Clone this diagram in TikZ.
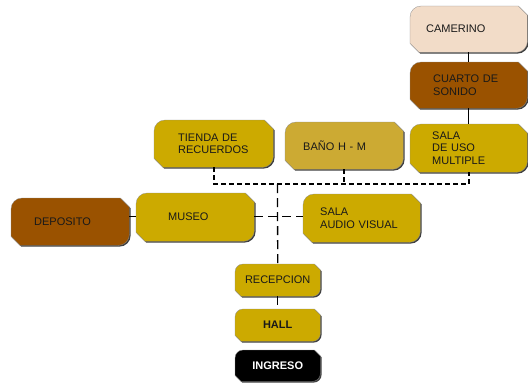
\documentclass[tikz,border=0pt]{standalone}
\usepackage{fontspec}
\setmainfont{Liberation Sans}
\usetikzlibrary{calc}
\pgfdeclarelayer{bg}
\pgfsetlayers{bg,main}
\definecolor{peach}{HTML}{F2DCC8}
\definecolor{brownbox}{HTML}{9A5200}
\definecolor{goldbox}{HTML}{CCAA00}
\definecolor{bathbox}{HTML}{CCAA33}
\tikzset{
  room/.style={rectangle, anchor=north west, inner ysep=0pt, align=left,
    font=\fontsize{11bp}{12.5bp}\selectfont, text=black!90},
  smallroom/.style={rectangle, anchor=north west, inner sep=0pt, align=center,
    minimum width=85bp, font=\fontsize{11bp}{12.5bp}\selectfont, text=black!90},
  solidlink/.style={draw=black, line width=1.2bp},
  buslink/.style={draw=black, line width=1.6bp, dash pattern=on 5bp off 3bp},
  longlink/.style={draw=black, line width=1.3bp, dash pattern=on 9bp off 5bp},
}
% #1 node, #2 fill, #3 round radius, #4 chamfer
\newcommand\octopath[3]{%
    ({\x1},{\y1-#2}) .. controls ({\x1},{\y1-0.45*#2}) and ({\x1+0.45*#2},{\y1}) .. ({\x1+#2},{\y1}) -- ({\x2-#3},{\y1}) -- ({\x2},{\y1-#3}) --
    ({\x2},{\y2+#2}) .. controls ({\x2},{\y2+0.45*#2}) and ({\x2-0.45*#2},{\y2}) .. ({\x2-#2},{\y2}) -- ({\x1+#3},{\y2}) -- ({\x1},{\y2+#3}) -- cycle}
\newcommand\octo[4]{%
  \path let \p1=(#1.north west), \p2=(#1.south east) in
    [fill=black!75, xshift=1.2pt, yshift=-1.2pt] \octopath{}{#3}{#4};
  \path let \p1=(#1.north west), \p2=(#1.south east) in
    [fill=#2, draw=black!45, line width=0.3pt] \octopath{}{#3}{#4};
}
\begin{document}
\begin{tikzpicture}[x=1bp,y=-1bp]
\useasboundingbox (0,0) rectangle (528,383);
% rooms
\node[room, minimum height=46bp, inner xsep=16bp, text width=85bp] (camerino) at (410,6) {CAMERINO};
\node[room, minimum height=46bp, inner xsep=23bp, text width=71bp] (cuarto) at (410,62) {CUARTO DE\\SONIDO};
\node[room, minimum height=48bp, inner xsep=22bp, text width=73bp] (salauso) at (410,124) {SALA\\DE USO\\MULTIPLE};
\node[room, minimum height=47bp, inner xsep=24bp, text width=71bp] (tienda) at (154,120) {TIENDA DE\\RECUERDOS};
\node[room, minimum height=47bp, inner xsep=18bp, text width=82bp] (bano) at (285,122) {BAÑO H - M};
\node[room, minimum height=47bp, inner xsep=23bp, text width=72bp] (deposito) at (11,198) {DEPOSITO};
\node[room, minimum height=48bp, inner xsep=32bp, text width=54bp] (museo) at (136,193) {MUSEO};
\node[room, minimum height=48bp, inner xsep=17bp, text width=83bp] (salaav) at (303,194) {SALA\\AUDIO VISUAL};
\node[smallroom, minimum height=32bp] (recepcion) at (235,264) {RECEPCION};
\node[smallroom, minimum height=32bp, font=\fontsize{11bp}{12.5bp}\selectfont\bfseries] (hall) at (235,309) {HALL};
\node[smallroom, minimum height=31bp, text=white, font=\fontsize{11bp}{12.5bp}\selectfont\bfseries] (ingreso) at (235,350) {INGRESO};
% shapes
\begin{pgfonlayer}{bg}
\octo{camerino}{peach}{11bp}{9bp}
\octo{cuarto}{brownbox}{11bp}{9bp}
\octo{salauso}{goldbox}{11bp}{9bp}
\octo{tienda}{goldbox}{11bp}{9bp}
\octo{bano}{bathbox}{11bp}{9bp}
\octo{deposito}{brownbox}{11bp}{9bp}
\octo{museo}{goldbox}{11bp}{9bp}
\octo{salaav}{goldbox}{11bp}{9bp}
\octo{recepcion}{goldbox}{8bp}{6bp}
\octo{hall}{goldbox}{8bp}{6bp}
\octo{ingreso}{black}{8bp}{6bp}
\end{pgfonlayer}
% connectors
\coordinate (bus) at (277.5,184);
\draw[solidlink] (camerino) -- (cuarto);
\draw[solidlink] (cuarto) -- (salauso);
\draw[buslink] (tienda.south) |- (bus) -| (salauso.south);
\draw[buslink] (bano.south) -- (bano.south |- bus);
\draw[longlink] (bus) -- (recepcion.north);
\draw[longlink] ([yshift=1bp]museo.east) -- ([yshift=1bp]museo.east -| salaav.west);
\draw[solidlink] ([yshift=1bp]museo.west -| deposito.east) -- ([yshift=1bp]museo.west);
\draw[longlink] (recepcion.south) -- (hall.north);
\end{tikzpicture}
\end{document}
